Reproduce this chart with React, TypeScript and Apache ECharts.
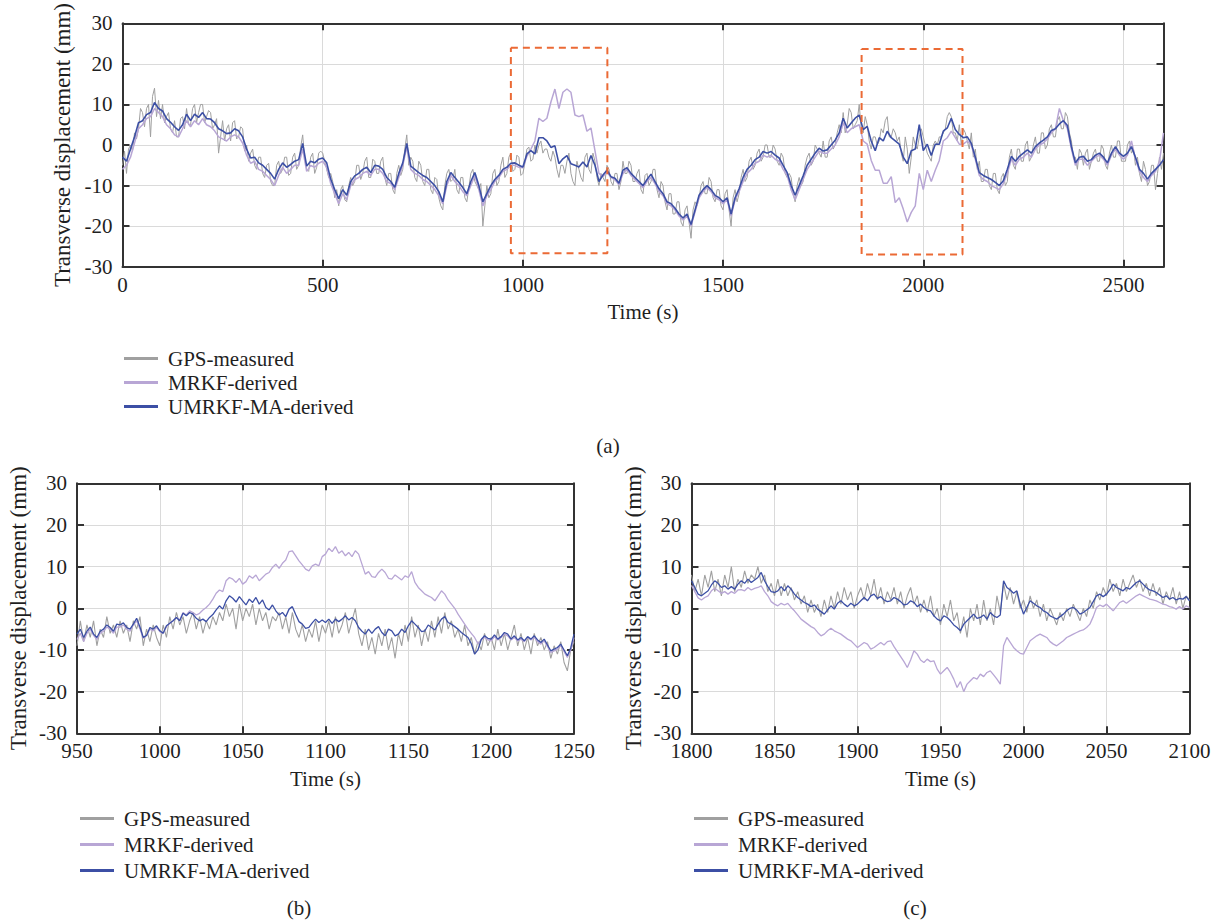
import React, { useEffect, useRef } from "react";
import * as echarts from "echarts";

const FONT = '"Liberation Serif", "Times New Roman", serif';
const C_GPS = "#a0a0a0";
const C_MRKF = "#b8a6d5";
const C_UMRKF = "#3c4fa5";
const C_BOX = "#eb6a35";
const NAMES = ["GPS-measured", "MRKF-derived", "UMRKF-MA-derived"];

// ---- (a) full record, 0..2600 s ----
// GPS every 5 s
const TOP_GPS_START = 0;
const TOP_GPS_STEP = 5;
const TOP_GPS = [
  -5, -1.5, -7, -1, 0, -1.5, 3, 1.5, 4, 9, 8, 4.5, 9, 10, 2, 12, 14, 7, 11, 6.5,
  10, 5.5, 7, 8, 4, 3, 6, 2, 2, 6.5, 7, 4, 9, 5, 5, 9, 10, 5.5, 8, 10,
  10, 5.5, 7, 8.5, 8, 4, 5, 6.5, -2, 2, 6, 1, 4, 5, 1, 5.5, 6, 1.5, 2, 4.5,
  4, -1.5, 0, -4, -2, -1, -5, -6, -3, -3, -7, -8, -5, -4.5, -9, -10, -10, -5, -4, -7,
  -6, -3, -3, -7.5, -7, -3, -2, -6, -5, -0.5, 2.5, -3.5, -6, -6.5, -3, -2, -7, -5.5, -2, -1.5,
  -2, -4, -6, -8, -7, -9, -13, -11, -15, -11, -10, -13.5, -14, -10, -8, -10, -9, -5, -5, -8.5,
  -7, -4, -3, -8, -8, -3.5, -4, -7, -7, -4, -3, -8, -10, -7, -7, -11, -12, -7, -5, -7.5,
  -6, -1, 2.5, -5, -3, -4, -8, -9, -4, -5, -9, -10, -6, -6, -11, -12, -8, -8.5, -13, -15,
  -16, -10, -7, -6, -9, -8.5, -6, -11, -12, -8, -8, -13, -14, -10.5, -7, -6, -9, -10, -11, -9.5,
  -20, -15, -10, -13, -12, -7, -6, -10, -9, -5, -3, -8, -7, -3, -2, -6.5, -6, -2.5, -3, -7.5,
  -7, -4.5, -1, -0.5, -4, -3.5, 0, -2, 0, 1, -2, -1, -1, -3, -4, -1.5, -3, -6, -8, -5,
  -5, -7, -4, -2, -7, -9, -10, -4, -6, -8, -9, -3, -2, -6, -7, -2, -4, -8, -10, -7,
  -8, -9, -5, -6, -9, -10, -7, -7, -11, -9, -4, -7, -7, -4, -5, -9, -9, -7, -6, -11,
  -12, -7.5, -7, -10, -9, -6, -6, -11, -13, -9, -10, -14, -16, -12, -12, -17, -17, -14, -14, -19,
  -20, -16, -15, -19, -23, -16, -14, -15, -13, -10, -9, -12, -12, -8, -9, -13, -14, -11, -11, -15,
  -16, -12, -11, -16, -20, -13, -11, -14, -12, -8, -6, -9, -8, -4, -3, -6, -5, -2, -1, -4,
  -3, 0, 0, -3, -3, 0, -1, -4, -5, -2, -3, -7, -8, -7, -8, -12, -14, -10, -8, -10,
  -9, -5, -3, -2, -5, -4, 0, -1, -2, -3, 1, -3, -3, 1, 2, -1, 0, 3, 5, 3,
  8, 3, 5, 9, 8, 4, 5, 6, 10, 4, 3, 7, 5, 1, -1, 2, 2, 0, 1, 4,
  3, 6, 7, 2, 2, 4, 3, 1, 2, -2, -4, 2, -1, -7, -3, 2, 0, -1, 2, 4,
  2, 0, -2, -3, -4, 0, 1, 0, 2, 2, 3, 4, 7, 8, 7, 3, 3, 1, 5, 0,
  4, 3, 1, -1, 3, -3, -1, -6, -4, -9, -9, -6, -6, -10, -11, -7, -7, -11, -12, -8,
  -7, -10, -9, -3, -1, -5, -6, -1, -1, -4, -4, 0, 1, -4, -3, 0, 2, -2, -2, 3,
  3, -1, 0, 4, 5, 2, 2, 6, 7, 4, 4, 8, 7, 3, 1, -3, -3, -6, -1, -2,
  -5, -2, -1, -6, -4, -2, -1, -4, -4, 0, -1, -5, -6, -2, 0, -3, -3, 1, 1, -4,
  -4, -4, 0, 1, -2, -1, -5, -3, -7, -9, -4, -6, -10, -9, -5, -5, -11, -7, -3, -6,
  -2,
];
// MRKF and UMRKF-MA every 10 s
const TOP_START = 0;
const TOP_STEP = 10;
const TOP_MRKF = [
  -6, -5, -3, 0.5, 4, 5, 6.5, 7, 9, 8,
  7, 5, 4, 2.5, 2, 4, 6, 4.5, 6, 5,
  6.5, 5, 4.5, 3.5, 2, 1.5, 1, 2, 2.5, 2,
  0.5, -2.5, -4.5, -4, -6, -6.5, -7.5, -8.5, -10, -7.5,
  -5.5, -7, -6, -5, -5, -1, -6.5, -5, -5.5, -4.5,
  -4, -5.5, -9.5, -12, -14.5, -12, -13.5, -10, -8.5, -8,
  -7, -6.5, -7.5, -6, -6, -7, -9, -9.5, -11, -8,
  -5, -0.5, -6, -7, -7.5, -8.5, -9, -10, -11, -12.5,
  -14.5, -10, -7.5, -9, -10, -11.5, -12.5, -10, -7.5, -11,
  -15, -12.5, -11, -9, -8, -6.5, -6, -5, -5, -5.5,
  -5.6, -2.8, -1, 1, 6.6, 5.8, 6.6, 10.6, 13.8, 9,
  13, 13.8, 13, 7.4, 7, 7.4, 3.4, 4.2, -1.4, -7,
  -7.8, -6.6, -8, -8.6, -9.8, -7, -6, -7.5, -8.5, -9.5,
  -10.5, -9, -8, -9.5, -11.5, -12.5, -14.5, -15, -16, -17.5,
  -18.5, -17.5, -20, -16.5, -13, -11.5, -10.5, -11.5, -13, -13.5,
  -14.5, -13.5, -17.5, -13.5, -11.5, -9, -7, -6, -4.5, -4,
  -2.5, -3, -2.5, -3.5, -4, -6, -7.5, -11, -13.5, -11,
  -8.5, -6, -4.5, -3, -1.5, -2, -2, -1, 0, 2,
  5.5, 3, 4, 4.5, 5, 1, 0.2, -3.8, -6.2, -6.2,
  -9.4, -9.4, -7.8, -14.2, -13, -15.8, -19, -16.6, -15, -7,
  -11, -6.2, -9, -6.2, -3.8, 1, 1.8, 3.4, 1.8, 0.2,
  0.2, 1, 0, -3.5, -7.5, -8.5, -9, -10, -10.5, -11,
  -9.5, -7, -3.5, -5, -3.5, -3, -2, -3, -1, 0,
  0.5, 1.5, 3, 4, 9, 6, 4, -1, -5, -3.5,
  -3.5, -5, -4, -3, -2.5, -3.5, -5, -2.5, -1, -2.5,
  -3.5, -2.5, 1, -3.5, -6.5, -8, -9, -7.5, -6.5, -4,
  3,
];
const TOP_UMRKF = [
  -3, -4, -1, 2, 5.5, 6, 7.5, 8, 10.5, 9,
  8.4, 6.5, 5.6, 4.5, 3.6, 5, 7.6, 6, 7.6, 6.8,
  8, 6.5, 6.4, 5.5, 4, 3.5, 2.8, 3, 4, 3.5,
  2, -1, -3.2, -3, -4.4, -5, -6, -7, -8.4, -6,
  -4.4, -5.5, -4.8, -4, -3.6, 0.4, -5.2, -4, -4.4, -3.5,
  -3.2, -4.4, -8.4, -11, -13.2, -11, -12.4, -9, -7.6, -7,
  -6, -5.5, -6.8, -5, -5.2, -6, -8, -9, -10.4, -7,
  -4.4, 0.4, -5.2, -6, -6.8, -7.5, -8, -9, -10, -11.5,
  -14, -9, -6.8, -8, -9.2, -10.5, -12, -9, -6.8, -10,
  -14, -12, -10, -8.5, -7.5, -6, -5.5, -4.5, -4.4, -5,
  -5.4, -2.2, -1.4, -2.2, 1.8, 1.8, 1, -0.6, -0.2, -4.6,
  -3.4, -2.6, -4.6, -5, -5.4, -4.2, -5.4, -2.6, -5, -9,
  -7.4, -6.2, -7.8, -8.2, -9.4, -6.2, -5.6, -7, -8, -9,
  -10, -8.5, -7.2, -9, -10.8, -12, -14, -14.5, -15.6, -17,
  -18, -17, -19.6, -16, -12.4, -11, -10, -11, -12.4, -13,
  -14, -13, -17, -13, -10.8, -8, -6, -5, -3.6, -3,
  -1.6, -2, -1.6, -2.5, -3.2, -5, -6.8, -10, -12.4, -10,
  -7.6, -5, -3.5, -2, -0.8, -1.5, -1.2, 0, 1.2, 3,
  6.6, 4.2, 5.4, 6.6, 7.4, 3.8, 4.6, 1, -1.4, 1.8,
  1, 3.4, 1.8, 1, 0.2, -3, -4.6, -1.4, -1, 5,
  -1.4, 0.2, -2.6, 0.2, 0.2, 3.4, 4.2, 6.6, 3.8, 2.6,
  1.8, 2, 0.4, -3, -6.8, -7.5, -8, -8.5, -9.2, -10,
  -8.8, -6, -2.8, -4, -2.8, -2, -1.2, -2, -0.4, 0.5,
  1.2, 2, 3.6, 4, 5.2, 6, 4.8, -0.4, -4.4, -3,
  -2.8, -4, -3.6, -2.5, -2, -3, -4.4, -2, -0.4, -2,
  -2.8, -2, -0.4, -3, -6, -7, -8.4, -7, -6, -5,
  -3.6,
];
// highlighted windows in (a): [t0, t1, yTop, yBottom]
const BOX_1 = [970, 1211, 24, -26.7];
const BOX_2 = [1846, 2098, 23.7, -27];

// ---- (b) 950..1250 s, every 2 s ----
const BL_START = 950;
const BL_STEP = 2;
const BL_GPS = [
  -9, -3, -8, -4, -7, -3, -9, -5, -7, -2,
  -6, -4, -7, -3, -6, -4, -8, -3, -5, -2,
  -9, -5, -8, -4, -7, -9, -4, -7, -2, -5,
  -1, -4, -2, -6, -3, -1, -5, -2, -6, -3,
  -5, -2, -4, -1, -3, 1, -2, 0, -5, 1,
  -3, 0, -2, 1, -4, 0, -3, -1, -5, -2,
  -3, -1, -5, -2, -6, -1, -5, -7, -4, -8,
  -5, -7, -3, -8, -4, -6, -3, -7, -2, -6,
  -4, -1, -6, -3, 0, -6, -9, -5, -10, -7,
  -11, -6, -9, -5, -10, -7, -12, -6, -9, -4,
  -8, -2, -7, -4, -9, -5, -8, -3, -7, -2,
  -6, -1, -5, -3, -7, -5, -8, -4, -9, -7,
  -11, -8, -10, -6, -9, -7, -10, -5, -9, -6,
  -10, -7, -4, -9, -6, -10, -7, -11, -6, -9,
  -7, -10, -8, -12, -9, -11, -8, -13, -15, -10,
  -8,
];
const BL_MRKF = [
  -7.5, -6, -8, -6, -5, -6.5, -7.5, -6, -5.5, -4.5,
  -5, -6, -4.5, -4.5, -4, -5, -5.5, -4, -3, -5,
  -7.2, -6.5, -5, -5.4, -4.6, -5.6, -6, -4.4, -3.6, -3,
  -2.2, -2.8, -1, -1.6, -0.6, -1, -1.6, -1.2, -0.4, 0.2,
  1, 2.2, 3.6, 4.4, 4, 6.6, 7.4, 7, 6.2, 7.2,
  5.8, 6.4, 7.8, 7.2, 8, 6.6, 7.4, 8.2, 8.6, 9.8,
  10.6, 9.6, 10.8, 11.6, 13.6, 13.8, 12.6, 11.4, 10.4, 9.4,
  9, 10.2, 10.6, 10.2, 12.4, 13, 14.4, 13.6, 14.8, 13.2,
  13.8, 12.6, 13.4, 12.4, 13.8, 13, 10.6, 8.2, 8.8, 7.6,
  7.4, 8.6, 9.4, 8.6, 7.2, 7, 8, 7.4, 6.8, 7.8,
  7.4, 8.8, 6.2, 5, 4.2, 3.4, 3, 2.6, 1.8, 3,
  4.2, 3.4, 2, 1, 0, -1.4, -2.6, -3.8, -5, -6,
  -7, -8.5, -7.5, -7, -7.6, -7.8, -6.8, -7.6, -7, -6.2,
  -6.6, -7.6, -7, -7.8, -7.4, -8, -7, -7.6, -7, -8,
  -8.6, -7.8, -9.2, -10.6, -10.2, -9.8, -9, -10.4, -11.8, -10,
  -7,
];
const BL_UMRKF = [
  -6.2, -5, -7, -5.5, -4.5, -6.2, -7, -5.5, -5, -4,
  -4.6, -5.5, -3.8, -4, -3.5, -4.6, -5, -3.8, -2.4, -4.5,
  -7, -6.5, -4.6, -5, -4.2, -5.4, -6, -4.2, -3.6, -3,
  -2.2, -3, -1.2, -1.8, -1, -1.4, -2.4, -3, -2.6, -3.2,
  -2.2, -1.5, -0.4, 0.6, -0.2, 1.8, 3, 2.4, 1.5, 2.8,
  1.8, 0.8, 2.2, 1.4, 2.6, 1, 2, 0.2, -0.4, 0.8,
  -0.6, -1.6, -1, -2, -0.2, 0.4, -1.5, -3.2, -3.8, -4.8,
  -4.6, -3.5, -2.6, -3.4, -2.8, -3.4, -2.6, -3.6, -2.6, -3.2,
  -2.6, -1.8, -2.8, -2.2, -3, -4.6, -5.5, -6.2, -5, -6,
  -5, -4.4, -5.8, -6.6, -5, -5.4, -6.6, -6.2, -5, -5.8,
  -4.2, -3, -3.8, -4.6, -5.6, -5.4, -4, -4.6, -5.2, -3.8,
  -2.6, -2, -3.4, -3.8, -4.4, -5, -5.8, -6.4, -7, -8.5,
  -11, -10, -7.5, -6.6, -7.2, -7.4, -6.4, -7.4, -6.8, -5.8,
  -6.2, -7.4, -6.6, -7.6, -7, -7.8, -6.8, -7.4, -6.6, -7.6,
  -8.2, -7.4, -8.8, -10.2, -9.8, -9.4, -8.6, -10, -11.4, -9.5,
  -6.2,
];

// ---- (c) 1800..2100 s, every 2 s ----
const BR_START = 1800;
const BR_STEP = 2;
const BR_GPS = [
  8, 4, 7, 3, 8, 5, 9, 4, 7, 3,
  8, 5, 10, 4, 7, 5, 9, 6, 8, 7,
  10, 6, 8, 4, 6, 3, 7, 3, 6, 3,
  5, 2, 4, 1, 3, -1, 2, -1, 1, -2,
  2, -1, 3, 0, 4, 1, 5, 2, 4, 0,
  3, 5, 2, 6, 3, 7, 2, 5, 1, 4,
  2, 5, 1, 4, 0, 3, 5, 1, 3, -1,
  2, -1, 3, -2, 0, -4, 1, -2, 2, -3,
  -1, -6, -2, -7, 0, -3, 1, -4, 2, -3,
  0, -4, 3, -1, 6, 2, 5, 1, 4, 0,
  2, -1, 3, 0, 2, -2, 1, -3, 0, -2,
  -4, -1, -3, 0, -2, 1, -1, -3, 0, -2,
  2, 0, 4, 2, 5, 3, 7, 4, 6, 3,
  7, 4, 6, 8, 5, 7, 4, 6, 3, 6,
  3, 5, 1, 4, 2, 5, 1, 4, 0, 3,
  2,
];
const BR_MRKF = [
  5.5, 4, 2.5, 2, 2.6, 3, 4.2, 4.8, 4.2, 3.6,
  4, 3.4, 4, 3.6, 4.4, 4.5, 4.2, 5, 4.4, 4.8,
  5, 5.4, 4, 3, 1.6, 1, 0.6, 1.2, 0.8, 1.2,
  0.2, -0.6, -1.6, -2.6, -3.2, -3.8, -4.4, -4.8, -5.8, -6.6,
  -6.2, -5.4, -4.8, -5.4, -5.8, -6.2, -6.8, -7.4, -7.8, -8.6,
  -9.4, -8.8, -8.2, -8.6, -9.8, -9.4, -8.8, -8.2, -8.8, -8,
  -7.8, -9.2, -10.4, -11.6, -12.8, -14.2, -12.4, -10.2, -11, -12.4,
  -13, -12.2, -12.8, -12.6, -14.6, -15.8, -15, -14.2, -15.4, -17,
  -19, -17.6, -20, -18.2, -17.4, -16.6, -17, -15.8, -16.4, -15.4,
  -15, -16, -17, -18.2, -9, -7, -8.2, -9.4, -10.2, -10.8,
  -11, -9.4, -7.8, -7.2, -6.6, -6.2, -6.6, -7, -8, -8.6,
  -9, -8.4, -7.8, -7, -6.6, -6.2, -5.8, -5.4, -5.2, -4.6,
  -3.8, -2, 0.2, 0.8, 0.4, 1, 0.2, -0.6, 0.4, 1.4,
  1.8, 1.2, 1.8, 2.4, 3, 3.4, 3, 2.6, 2.2, 2,
  1.8, 1.4, 1, 0.8, 0.4, 0.2, -0.2, 0.4, -0.2, 0.6,
  0.2,
];
const BR_UMRKF = [
  6.6, 5, 3.4, 3, 3.6, 4.2, 5.6, 6.6, 6, 5,
  5.4, 4.6, 5.2, 4.6, 5.8, 6.6, 6, 7, 6.2, 6.8,
  7.4, 8.6, 6.6, 5.2, 4, 3.8, 4.2, 5.2, 4.2, 5.4,
  4.6, 3.4, 2.6, 2, 1.4, 1, 0.4, 0.8, -0.2, -0.8,
  -1.4, -0.4, 0.6, -0.2, 1.2, 1.8, 1, 0.4, 1.2, 0.6,
  1, 1.8, 2.6, 1.8, 3, 3.4, 2.4, 2.8, 2, 1.6,
  1.8, 2.6, 2.2, 1.6, 0.8, 1, 1.8, 1.4, 0.4, 1,
  0.2, -0.4, -0.6, -1.8, -2.6, -3, -1.8, -2.2, -3, -4,
  -4.6, -5.4, -3.8, -3, -2.2, -1.4, -2.4, -2.2, -1.6, -2.6,
  -1, -1.8, -2.2, -1.6, 6.6, 5, 4.4, 3.6, 4.2, 1,
  -1.4, 0.2, 1.8, 1.2, 0.6, 0.2, -0.6, -1, -1.8, -2.2,
  -2.6, -2, -1.4, -0.6, 0, 0.2, -0.4, -1.4, -1, -0.4,
  0.2, 1.6, 3, 3.4, 2.8, 3.4, 4.4, 5.8, 5, 4.6,
  4.2, 5, 4.6, 5.4, 6.2, 6.6, 5.8, 5, 4.4, 4.2,
  3.8, 3.2, 2.6, 3, 2.2, 2.6, 2, 2.4, 2.2, 2.8,
  1.8,
];

const Y_MIN = -30;
const Y_MAX = 30;
const Y_INTERVAL = 10;

const pairs = (start: number, step: number, arr: number[]) =>
  arr.map((v, i) => [start + i * step, v]);

const boxData = (b: number[]) => [
  [b[0], b[2]],
  [b[1], b[2]],
  [b[1], b[3]],
  [b[0], b[3]],
  [b[0], b[2]],
];

const TXT = "#1f1f1f";
const FRAME = "#333333";
const FS = 21;
const FS_YNAME = 23;

const plain = (v: number) => String(v);

function xAxes(grid: number, min: number, max: number, interval: number, hideMax: boolean) {
  const line = { show: true, onZero: false, lineStyle: { color: FRAME, width: 2 } };
  const tick = { show: true, inside: true, length: 7, lineStyle: { color: FRAME, width: 2 } };
  return [
    {
      type: "value",
      gridIndex: grid,
      position: "bottom",
      min,
      max,
      interval,
      name: "Time (s)",
      nameLocation: "middle",
      nameGap: 35,
      nameTextStyle: { fontFamily: FONT, fontSize: FS, color: TXT },
      axisLine: line,
      axisTick: tick,
      axisLabel: {
        fontFamily: FONT,
        fontSize: FS,
        lineHeight: 16,
        color: TXT,
        margin: 10,
        showMaxLabel: !hideMax,
        formatter: plain,
      },
      splitLine: { show: true, lineStyle: { color: "#dadada", width: 1 } },
    },
    {
      type: "value",
      gridIndex: grid,
      position: "top",
      min,
      max,
      interval,
      axisLine: line,
      axisTick: tick,
      axisLabel: { show: false },
      splitLine: { show: false },
    },
  ];
}

function yAxes(grid: number) {
  const line = { show: true, onZero: false, lineStyle: { color: FRAME, width: 2 } };
  const tick = { show: true, inside: true, length: 7, lineStyle: { color: FRAME, width: 2 } };
  return [
    {
      type: "value",
      gridIndex: grid,
      position: "left",
      min: Y_MIN,
      max: Y_MAX,
      interval: Y_INTERVAL,
      name: "Transverse displacement (mm)",
      nameLocation: "middle",
      nameGap: 47,
      nameTextStyle: { fontFamily: FONT, fontSize: FS_YNAME, color: TXT },
      axisLine: line,
      axisTick: tick,
      axisLabel: { fontFamily: FONT, fontSize: FS, lineHeight: 16, color: TXT, margin: 10, formatter: plain },
      splitLine: { show: true, lineStyle: { color: "#dadada", width: 1 } },
    },
    {
      type: "value",
      gridIndex: grid,
      position: "right",
      min: Y_MIN,
      max: Y_MAX,
      interval: Y_INTERVAL,
      axisLine: line,
      axisTick: tick,
      axisLabel: { show: false },
      splitLine: { show: false },
    },
  ];
}

function lineSeries(name: string, color: string, axis: number, data: number[][], width: number) {
  return {
    name,
    type: "line",
    xAxisIndex: axis,
    yAxisIndex: axis,
    data,
    showSymbol: false,
    symbol: "none",
    lineStyle: { color, width },
    itemStyle: { color },
    silent: true,
  };
}

function boxSeries(axis: number, b: number[]) {
  return {
    name: "window",
    type: "line",
    xAxisIndex: axis,
    yAxisIndex: axis,
    data: boxData(b),
    symbol: "none",
    lineStyle: { color: C_BOX, width: 2, type: [7, 5] },
    itemStyle: { color: C_BOX },
    silent: true,
    z: 5,
  };
}

function legendAt(left: number, top: number, gap: number) {
  return {
    data: NAMES,
    orient: "vertical",
    left,
    top,
    icon: "rect",
    itemWidth: 34,
    itemHeight: 3,
    itemGap: gap,
    selectedMode: false,
    textStyle: { fontFamily: FONT, fontSize: FS, color: TXT, lineHeight: 21, padding: [0, 0, 0, 5] },
  };
}

export default function App() {
  const ref = useRef<HTMLDivElement>(null);
  useEffect(() => {
    if (!ref.current) return;
    const chart = echarts.init(ref.current, undefined, { renderer: "svg" });
    const option = {
      animation: false,
      backgroundColor: "#ffffff",
      grid: [
        { left: 122.5, top: 15.7, width: 1041, height: 251 },
        { left: 77, top: 483.3, width: 497, height: 250 },
        { left: 691.5, top: 483.3, width: 498, height: 250 },
      ],
      xAxis: [
        ...xAxes(0, 0, 2600, 500, true),
        ...xAxes(1, 950, 1250, 50, false),
        ...xAxes(2, 1800, 2100, 50, false),
      ],
      yAxis: [...yAxes(0), ...yAxes(1), ...yAxes(2)],
      legend: [legendAt(119, 343, 3), legendAt(75, 803, 5), legendAt(689, 803, 5)],
      series: [
        lineSeries(NAMES[0], C_GPS, 0, pairs(TOP_GPS_START, TOP_GPS_STEP, TOP_GPS), 1),
        lineSeries(NAMES[1], C_MRKF, 0, pairs(TOP_START, TOP_STEP, TOP_MRKF), 1.5),
        lineSeries(NAMES[2], C_UMRKF, 0, pairs(TOP_START, TOP_STEP, TOP_UMRKF), 1.6),
        boxSeries(0, BOX_1),
        boxSeries(0, BOX_2),
        lineSeries(NAMES[0], C_GPS, 2, pairs(BL_START, BL_STEP, BL_GPS), 1.1),
        lineSeries(NAMES[1], C_MRKF, 2, pairs(BL_START, BL_STEP, BL_MRKF), 1.3),
        lineSeries(NAMES[2], C_UMRKF, 2, pairs(BL_START, BL_STEP, BL_UMRKF), 1.3),
        lineSeries(NAMES[0], C_GPS, 4, pairs(BR_START, BR_STEP, BR_GPS), 1.1),
        lineSeries(NAMES[1], C_MRKF, 4, pairs(BR_START, BR_STEP, BR_MRKF), 1.3),
        lineSeries(NAMES[2], C_UMRKF, 4, pairs(BR_START, BR_STEP, BR_UMRKF), 1.3),
      ],
      graphic: [
        { type: "text", x: 608, y: 446, style: { text: "(a)", fontFamily: FONT, fontSize: FS, fill: TXT, textAlign: "center", textVerticalAlign: "middle" } },
        { type: "text", x: 299, y: 908, style: { text: "(b)", fontFamily: FONT, fontSize: FS, fill: TXT, textAlign: "center", textVerticalAlign: "middle" } },
        { type: "text", x: 915, y: 908, style: { text: "(c)", fontFamily: FONT, fontSize: FS, fill: TXT, textAlign: "center", textVerticalAlign: "middle" } },
      ],
    };
    chart.setOption(option as any);
    return () => chart.dispose();
  }, []);
  return (
    <div
      ref={ref}
      style={{ position: "absolute", left: 0, top: 0, width: 1218, height: 921, background: "#fff" }}
    />
  );
}
